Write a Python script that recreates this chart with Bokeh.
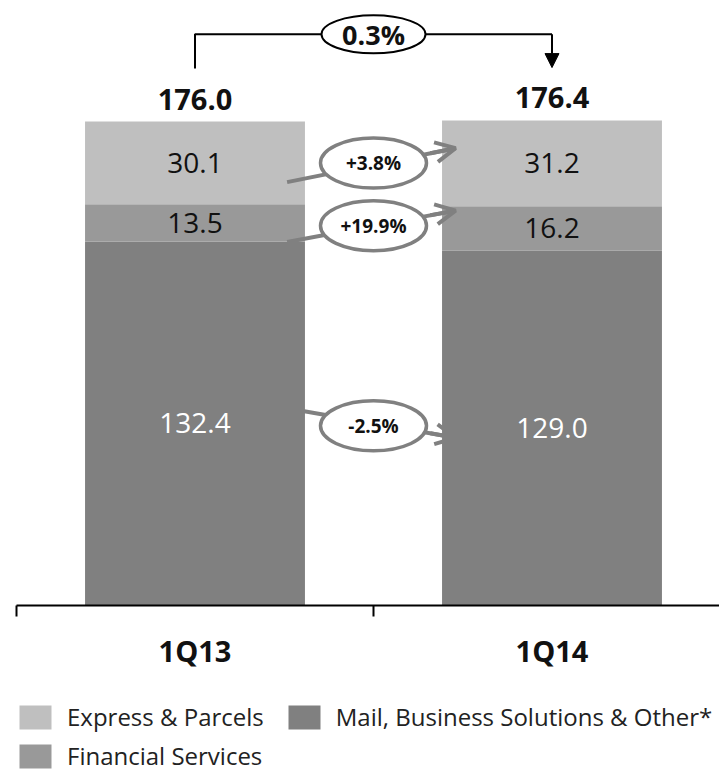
from bokeh.plotting import figure
from bokeh.models import (ColumnDataSource, Range1d, LinearAxis, FixedTicker, Legend,
                          LegendItem, Arrow, NormalHead, OpenHead)
from bokeh.core.properties import value
from bokeh.embed import file_html
from bokeh.resources import INLINE

# ---------------- data ----------------
categories = ["1Q13", "1Q14"]
mail = [132.4, 129.0]          # Mail, Business Solutions & Other*
financial = [13.5, 16.2]       # Financial Services
express = [30.1, 31.2]         # Express & Parcels
totals = [176.0, 176.4]
segment_changes = ["+3.8%", "+19.9%", "-2.5%"]   # express, financial, mail
total_change = "0.3%"

C_EXP = "#bfbfbf"
C_FS = "#999999"
C_MAIL = "#808080"
FONT = "Open Sans"
FV = value(FONT)

x = [i + 0.5 for i in range(len(categories))]
src = ColumnDataSource(dict(x=x, mail=mail, financial=financial, express=express))

PX_PER_CAT = 357.0
PX_PER_UNIT = 2.75
p = figure(width=719, height=775,
           x_range=Range1d(-16 / PX_PER_CAT, 703 / PX_PER_CAT),
           y_range=Range1d(-170 / PX_PER_UNIT, 605 / PX_PER_UNIT),
           x_axis_type=None, y_axis_type=None, toolbar_location=None, output_backend="svg",
           min_border=0, outline_line_color=None)
p.grid.visible = False

bars = p.vbar_stack(["mail", "financial", "express"], x="x", width=0.616,
                    fill_color=[C_MAIL, C_FS, C_EXP], line_color=None, source=src)

# ---------- segment labels ----------
lx, ly, lt, lc = [], [], [], []
mids = {"express": [], "financial": [], "mail": []}
for i in range(len(categories)):
    m_mid = mail[i] / 2
    f_mid = mail[i] + financial[i] / 2
    e_mid = mail[i] + financial[i] + express[i] / 2
    mids["mail"].append(m_mid)
    mids["financial"].append(f_mid)
    mids["express"].append(e_mid)
    for val, mid, col in ((mail[i], m_mid, "white"), (financial[i], f_mid, "#111111"),
                          (express[i], e_mid, "#111111")):
        lx.append(x[i]); ly.append(mid); lt.append("%.1f" % val); lc.append(col)
p.text(x=lx, y=ly, text=lt, text_color=lc, text_font=FV, text_font_size="28px",
       text_align="center", text_baseline="middle")

# totals
p.text(x=x, y=totals, text=["%.1f" % t for t in totals], text_font=FV, text_font_size="29px",
       text_font_style="bold", text_color="#111111", text_align="center",
       text_baseline="bottom", y_offset=-12)

# ---------- top bracket ----------
y_top = max(totals) + 31.3
p.line(x=[x[0], x[0], x[1]], y=[totals[0] + 19.3, y_top, y_top], line_color="black",
       line_width=2)
p.add_layout(Arrow(end=NormalHead(size=14, fill_color="black", line_color="black"),
                   x_start=x[1], y_start=y_top, x_end=x[1], y_end=totals[1] + 19.2,
                   line_color="black", line_width=2))
mid_x = (x[0] + x[1]) / 2
p.ellipse(x=[mid_x], y=[y_top], width=104, height=38, width_units="screen",
          height_units="screen", fill_color="white", line_color="black", line_width=2)
p.text(x=[mid_x], y=[y_top], text=[total_change], text_font=FV, text_font_size="27px",
       text_font_style="bold", text_color="#111111", text_align="center",
       text_baseline="middle")

# ---------- change bubbles ----------
GRAY = "#808080"
keys = ["express", "financial", "mail"]
start_dy = [-7.0, -7.0, 5.5]
end_dy = [5.5, 6.5, -3.5]
bx, by = [], []
for k, key in enumerate(keys):
    lm, rm = mids[key]
    x0, y0 = x[0] + 0.258, lm + start_dy[k]
    x1, y1 = x[1] - 0.27, rm + end_dy[k]
    p.segment(x0=[x0], y0=[y0], x1=[x1], y1=[y1], line_color=GRAY, line_width=4)
    f = 0.85
    p.add_layout(Arrow(end=OpenHead(size=20, line_color=GRAY, line_width=4),
                       x_start=x0 + f * (x1 - x0), y_start=y0 + f * (y1 - y0),
                       x_end=x1, y_end=y1, line_color=GRAY, line_width=4))
    bx.append(mid_x); by.append((lm + rm) / 2)
p.ellipse(x=bx, y=by, width=106, height=50, width_units="screen", height_units="screen",
          fill_color="white", line_color=GRAY, line_width=3.5)
p.text(x=bx, y=by, text=segment_changes, text_font=FV, text_font_size="19px",
       text_font_style="bold", text_color="#111111", text_align="center",
       text_baseline="middle")

# ---------- axis (drawn at y = 0) ----------
xaxis = LinearAxis(ticker=FixedTicker(ticks=x, minor_ticks=[0, 1, 2]),
                   major_label_overrides={x[i]: c for i, c in enumerate(categories)},
                   fixed_location=0, bounds=(0, len(categories)))
xaxis.axis_line_color = "black"
xaxis.axis_line_width = 2
xaxis.major_tick_line_color = None
xaxis.major_tick_in = 0
xaxis.major_tick_out = 0
xaxis.minor_tick_line_color = "black"
xaxis.minor_tick_line_width = 2
xaxis.minor_tick_in = 0
xaxis.minor_tick_out = 11
xaxis.major_label_standoff = 14
xaxis.major_label_text_font = FONT
xaxis.major_label_text_font_size = "29px"
xaxis.major_label_text_font_style = "bold"
xaxis.major_label_text_color = "#111111"
p.add_layout(xaxis, "below")

# ---------- legend ----------
def make_legend(items, loc):
    return Legend(items=items, location=loc, orientation="horizontal",
                  glyph_width=40, glyph_height=30, label_standoff=12, spacing=20,
                  padding=0, margin=0, border_line_color=None, background_fill_alpha=0,
                  label_text_font=FONT, label_text_font_size="24px",
                  label_text_color="#222222", label_height=30)

leg1 = make_legend([LegendItem(label="Express & Parcels", renderers=[bars[2]]),
                    LegendItem(label="Mail, Business Solutions & Other*", renderers=[bars[0]])],
                   (15, 42))
leg2 = make_legend([LegendItem(label="Financial Services", renderers=[bars[1]])], (15, 3))
p.add_layout(leg1, "center")
p.add_layout(leg2, "center")

open("out.html", "w").write(file_html(p, INLINE))
